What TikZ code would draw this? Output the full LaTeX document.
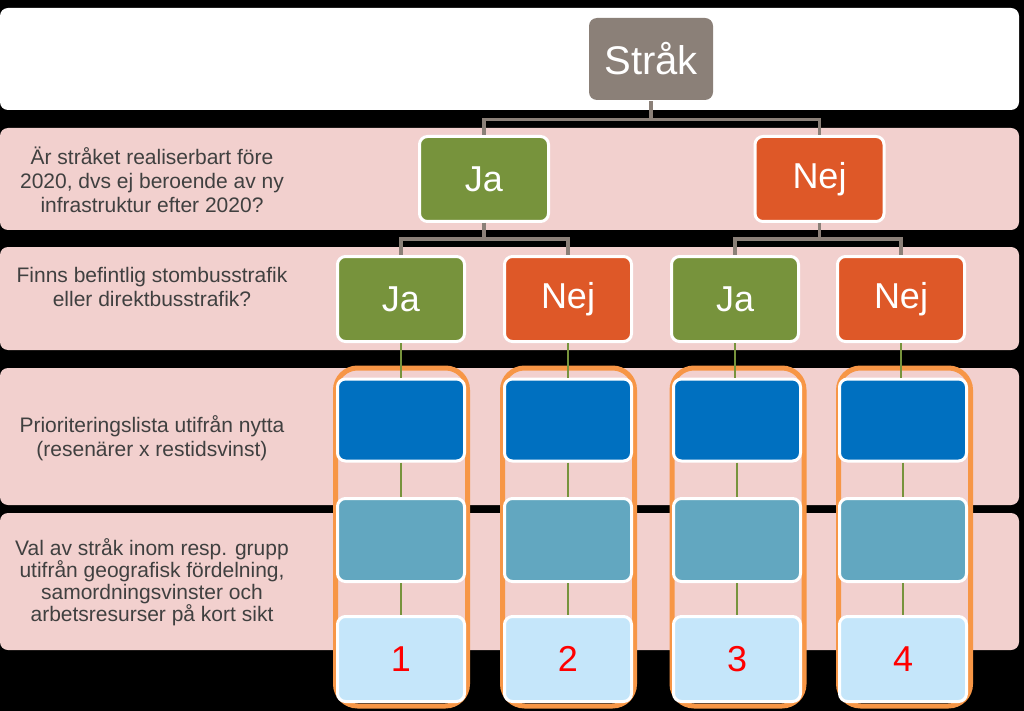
\documentclass[tikz,border=0pt]{standalone}
\usepackage{fontspec}
\setmainfont{Liberation Sans}
\definecolor{rowpink}{HTML}{F2D0CE}
\definecolor{strakgray}{HTML}{8B8078}
\definecolor{jagreen}{HTML}{77933C}
\definecolor{nejred}{HTML}{DE5828}
\definecolor{darkblue}{HTML}{0070C0}
\definecolor{midblue}{HTML}{62A7C0}
\definecolor{lightblue}{HTML}{C5E6FA}
\definecolor{orangeframe}{HTML}{F79646}
\definecolor{labelgray}{HTML}{404040}
\tikzset{
  rowbar/.style={rounded corners=8pt, inner sep=0pt, minimum width=1019pt},
  labeltext/.style={text=labelgray, align=center, font=\fontsize{21}{24}\selectfont, inner sep=0pt},
  boxbase/.style={draw=white, line width=3pt, rounded corners=8pt, inner sep=0pt,
    minimum width=127pt, minimum height=85pt},
  bigtext/.style={text=white, font=\fontsize{36}{40}\selectfont},
  jabox/.style={boxbase, bigtext, fill=jagreen},
  nejbox/.style={boxbase, bigtext, fill=nejred},
  bluebox/.style={boxbase, fill=darkblue, minimum height=82pt},
  midbox/.style={boxbase, fill=midblue, minimum height=83pt},
  lightbox/.style={boxbase, fill=lightblue, minimum height=85pt, text=red, font=\fontsize{36}{40}\selectfont},
  frame/.style={draw=orangeframe, line width=5pt, rounded corners=22pt, inner sep=0pt,
    minimum width=132pt, minimum height=338pt},
  grayconn/.style={draw=strakgray, line width=3.5pt},
  greenconn/.style={draw=jagreen, line width=2pt},
}
\begin{document}
\begin{tikzpicture}[x=1pt,y=-1pt]
\useasboundingbox (0,0) rectangle (1024,711);
\fill[black] (0,0) rectangle (1024,711);
% rows
\node[rowbar, fill=white, minimum height=102pt] (row0) at (509.5,59) {};
\node[rowbar, fill=rowpink, minimum height=102pt] (row1) at (509.5,179) {};
\node[rowbar, fill=rowpink, minimum height=103pt] (row2) at (509.5,298.5) {};
\node[rowbar, fill=rowpink, minimum height=137pt] (row3) at (509.5,436.5) {};
\node[rowbar, fill=rowpink, minimum height=137pt] (row4) at (509.5,581.5) {};
% labels
\node[labeltext] (lab1) at (152,180) {Är stråket realiserbart före\\2020, dvs ej beroende av ny\\infrastruktur efter 2020?};
\node[labeltext] (lab2) at (152,287) {Finns befintlig stombusstrafik\\eller direktbusstrafik?};
\node[labeltext] (lab3) at (152,438) {Prioriteringslista utifrån nytta\\(resenärer x restidsvinst)};
\node[labeltext, font=\fontsize{21}{22}\selectfont] (lab4) at (152,582) {Val av stråk inom resp. grupp\\utifrån geografisk fördelning,\\samordningsvinster och\\arbetsresurser på kort sikt};
% orange frames
\node[frame] (o1) at (401.5,537) {};
\node[frame] (o2) at (568.5,537) {};
\node[frame] (o3) at (738,537) {};
\node[frame] (o4) at (904.5,537) {};
% tree boxes
\node[boxbase, bigtext, draw=none, fill=strakgray, minimum width=124pt, minimum height=82pt, font=\fontsize{40}{44}\selectfont] (strak) at (651,59) {Stråk};
\node[jabox, minimum width=129pt] (a1) at (484,179) {Ja};
\node[nejbox, minimum width=129pt] (b1) at (819.5,179) {Nej};
\node[jabox] (c1) at (401,299) {Ja};
\node[nejbox] (c2) at (568,299) {Nej};
\node[jabox] (c3) at (735,299) {Ja};
\node[nejbox] (c4) at (901,299) {Nej};
% connectors
\draw[grayconn] (strak.south) -- ++(0,18) -| (a1.north);
\draw[grayconn] (strak.south) -- ++(0,18) -| (b1.north);
\draw[grayconn] (a1.south) -- ++(0,16) -| (c1.north);
\draw[grayconn] (a1.south) -- ++(0,16) -| (c2.north);
\draw[grayconn] (b1.south) -- ++(0,16) -| (c3.north);
\draw[grayconn] (b1.south) -- ++(0,16) -| (c4.north);
% column boxes
\foreach \i/\x/\n in {1/401/1, 2/568/2, 3/737/3, 4/903/4}{
  \node[bluebox] (p\i) at (\x,420) {};
  \node[midbox] (q\i) at (\x,540) {};
  \node[lightbox] (r\i) at (\x,659) {\n};
}
\foreach \i in {1,2,3,4}{
  \draw[greenconn] (c\i.south) -- (c\i.south |- p\i.north);
  \draw[greenconn] (p\i.south) -- (q\i.north);
  \draw[greenconn] (q\i.south) -- (r\i.north);
}
\end{tikzpicture}
\end{document}
